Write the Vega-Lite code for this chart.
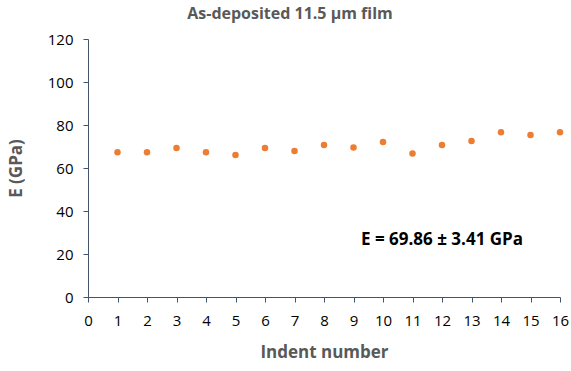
{
  "$schema": "https://vega.github.io/schema/vega-lite/v6.json",
  "width": 472,
  "height": 258,
  "autosize": {"type": "none"},
  "padding": {"left": 88, "top": 39, "right": 11, "bottom": 74},
  "background": "white",
  "title": {"text": "As-deposited 11.5 µm film", "font": "Open Sans", "fontSize": 16, "fontWeight": "bold", "color": "#595959", "anchor": "middle", "dx": -34, "offset": 10},
  "config": {"view": {"stroke": null}},
  "datasets": {
    "points": [
      {"indent": 1, "E": 67.3}, {"indent": 2, "E": 67.3}, {"indent": 3, "E": 69.3}, {"indent": 4, "E": 67.3},
      {"indent": 5, "E": 66.0}, {"indent": 6, "E": 69.3}, {"indent": 7, "E": 67.9}, {"indent": 8, "E": 70.7},
      {"indent": 9, "E": 69.5}, {"indent": 10, "E": 72.1}, {"indent": 11, "E": 66.7}, {"indent": 12, "E": 70.7},
      {"indent": 13, "E": 72.6}, {"indent": 14, "E": 76.6}, {"indent": 15, "E": 75.3}, {"indent": 16, "E": 76.6}
    ],
    "note": [{"indent": 12.0, "E": 26.5, "label": "E = 69.86 ± 3.41 GPa"}]
  },
  "encoding": {
    "x": {"field": "indent", "type": "quantitative", "scale": {"domain": [0, 16], "nice": false, "zero": true},
      "axis": {"title": "Indent number", "tickCount": 16, "tickMinStep": 1, "grid": false, "labelOverlap": false, "labelFlush": false,
        "domainColor": "#44546A", "tickColor": "#44546A", "tickSize": 5, "labelFont": "Open Sans", "labelFontSize": 15, "labelColor": "#000000",
        "labelPadding": 11, "titleFont": "Open Sans", "titleFontSize": 17, "titleFontWeight": "bold", "titleColor": "#595959", "titlePadding": 16}},
    "y": {"field": "E", "type": "quantitative", "scale": {"domain": [0, 120], "nice": false},
      "axis": {"title": "E (GPa)", "tickCount": 6, "grid": false,
        "domainColor": "#44546A", "tickColor": "#44546A", "tickSize": 5, "labelFont": "Open Sans", "labelFontSize": 15, "labelColor": "#000000",
        "labelPadding": 10, "titleFont": "Open Sans", "titleFontSize": 17, "titleFontWeight": "bold", "titleColor": "#595959", "titlePadding": 22}}
  },
  "layer": [
    {
      "data": {"name": "points"},
      "mark": {"type": "point", "filled": true, "shape": "circle", "size": 42, "color": "#ED7D31", "opacity": 1}
    },
    {
      "data": {"name": "note"},
      "mark": {"type": "text", "font": "Open Sans", "fontSize": 17, "fontWeight": "bold", "color": "#000000", "align": "center", "baseline": "middle"},
      "encoding": {
        "text": {"field": "label"}
      }
    }
  ]
}
